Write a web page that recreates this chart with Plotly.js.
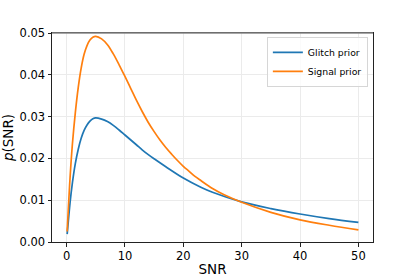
<!DOCTYPE html>
<html><head><meta charset="utf-8">
<script src="https://cdn.plot.ly/plotly-3.0.1.min.js"></script>
<style>html,body{margin:0;padding:0;background:#fff}#c{width:415px;height:277px}</style>
</head><body><div id="c"></div>
<script>
const glitchX = [0.1, 0.3, 0.6, 1, 1.5, 2, 2.5, 3, 3.5, 4, 4.5, 5, 6, 7, 8, 9, 10, 11, 12, 13, 14, 15, 17, 20, 23, 25, 30, 35, 40, 45, 50];
const glitchY = [0.0019, 0.0050, 0.0095, 0.0142, 0.0188, 0.0222, 0.0248, 0.0267, 0.0280, 0.0289, 0.0295, 0.0297, 0.0294, 0.0288, 0.0279, 0.0268, 0.0256, 0.0244, 0.0232, 0.0220, 0.0209, 0.0199, 0.0180, 0.0153, 0.0131, 0.0119, 0.0096, 0.0080, 0.0067, 0.0056, 0.0047];
const signalX = [0.1, 0.3, 0.6, 1, 1.5, 2, 2.5, 3, 3.5, 4, 4.5, 5, 6, 7, 8, 9, 10, 11, 12, 13, 14, 15, 16, 17, 18, 19, 20, 21, 22, 23, 25, 27, 30, 35, 40, 45, 50];
const signalY = [0.0025, 0.0080, 0.0155, 0.0235, 0.0310, 0.0370, 0.0416, 0.0449, 0.0470, 0.0483, 0.0490, 0.0492, 0.0486, 0.0472, 0.0450, 0.0424, 0.0396, 0.0367, 0.0338, 0.0311, 0.0286, 0.0264, 0.0244, 0.0226, 0.0210, 0.0195, 0.0181, 0.0169, 0.0157, 0.0147, 0.0128, 0.0113, 0.0095, 0.0071, 0.0053, 0.0040, 0.0029];
const xTicks = [0, 10, 20, 30, 40, 50];
const yTicks = [0, 0.01, 0.02, 0.03, 0.04, 0.05];

const tickFont = {family: 'DejaVu Sans', size: 11.5, color: '#000'};
const titleFont = {family: 'DejaVu Sans', size: 13.5, color: '#000'};
const traces = [
  {x: glitchX, y: glitchY, mode: 'lines', name: 'Glitch prior', line: {color: '#1f77b4', width: 1.7, shape: 'spline', smoothing: 1}},
  {x: signalX, y: signalY, mode: 'lines', name: 'Signal prior', line: {color: '#ff7f0e', width: 1.7, shape: 'spline', smoothing: 1}}
];
const layout = {
  width: 415, height: 277,
  margin: {l: 52, r: 42, t: 33, b: 35},
  paper_bgcolor: '#fff', plot_bgcolor: '#fff',
  font: tickFont,
  showlegend: true,
  legend: {x: 0.984, y: 0.981, xanchor: 'right', yanchor: 'top', bgcolor: 'rgba(255,255,255,0.8)', bordercolor: '#d6d6d6', borderwidth: 1,
    font: {family: 'DejaVu Sans', size: 9.3, color: '#000'}, tracegroupgap: 0, itemwidth: 30},
  xaxis: {range: [-2.5, 52.5], tickvals: xTicks, ticktext: xTicks.map(String), showgrid: true, gridcolor: '#ebebeb', gridwidth: 1, zeroline: false,
    showline: true, linecolor: '#222', linewidth: 1, mirror: true, ticks: 'outside', ticklen: 3.5, tickcolor: '#222',
    tickfont: tickFont, title: {text: 'SNR', font: titleFont, standoff: 2}},
  yaxis: {range: [0, 0.05], tickvals: yTicks, ticktext: yTicks.map(v => v.toFixed(2)), showgrid: true, gridcolor: '#ebebeb', gridwidth: 1, zeroline: false,
    showline: true, linecolor: '#222', linewidth: 1, mirror: true, ticks: 'outside', ticklen: 3.5, tickcolor: '#222',
    tickfont: tickFont, title: {text: '<i>p</i>(SNR)', font: titleFont, standoff: 4}},
  shapes: [{type: 'line', xref: 'paper', yref: 'paper', x0: 0, x1: 1, y0: 1, y1: 1, line: {color: '#888', width: 1.5}}]
};
Plotly.newPlot('c', traces, layout, {displayModeBar: false, staticPlot: true});
</script></body></html>
